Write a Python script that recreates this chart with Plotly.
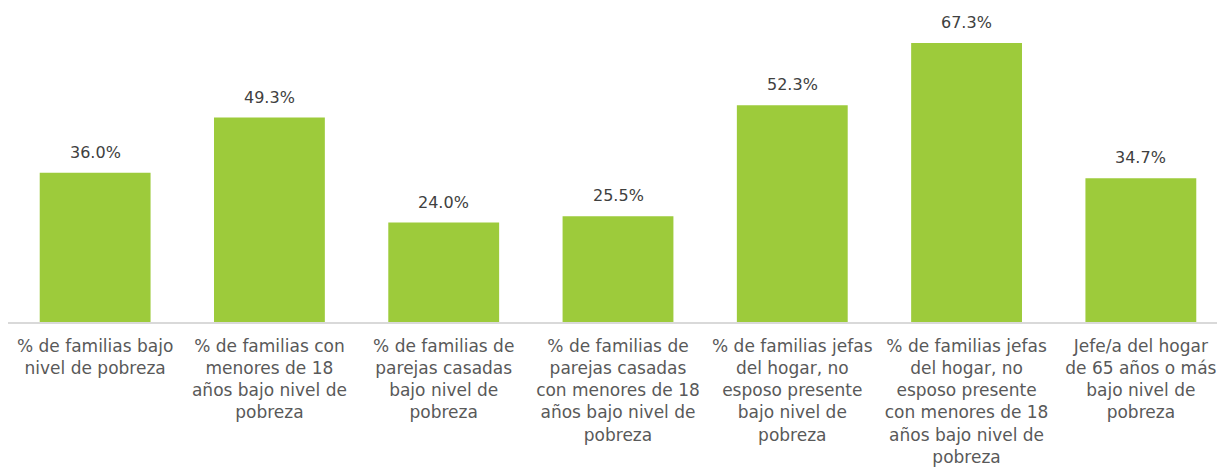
import plotly.graph_objects as go

categories = [
    "% de familias bajo<br>nivel de pobreza",
    "% de familias con<br>menores de 18<br>años bajo nivel de<br>pobreza",
    "% de familias de<br>parejas casadas<br>bajo nivel de<br>pobreza",
    "% de familias de<br>parejas casadas<br>con menores de 18<br>años bajo nivel de<br>pobreza",
    "% de familias jefas<br>del hogar, no<br>esposo presente<br>bajo nivel de<br>pobreza",
    "% de familias jefas<br>del hogar, no<br>esposo presente<br>con menores de 18<br>años bajo nivel de<br>pobreza",
    "Jefe/a del hogar<br>de 65 años o más<br>bajo nivel de<br>pobreza",
]
values = [36.0, 49.3, 24.0, 25.5, 52.3, 67.3, 34.7]
value_labels = [f"{v:.1f}%" for v in values]

FONT = "DejaVu Sans"

fig = go.Figure()
fig.add_trace(go.Bar(
    x=categories, y=values,
    marker=dict(color="#9DCB3B", line=dict(width=0)),
    hoverinfo="skip",
))

for c, v, t in zip(categories, values, value_labels):
    fig.add_annotation(
        x=c, y=v, text=t, showarrow=False,
        xanchor="center", yanchor="bottom", yshift=9,
        font=dict(family=FONT, size=16, color="#404040"),
    )

fig.update_layout(
    width=1225, height=469,
    margin=dict(l=0, r=5, t=0, b=155, autoexpand=False),
    paper_bgcolor="white", plot_bgcolor="white",
    bargap=0.364,
    showlegend=False,
    font=dict(family=FONT),
)
fig.update_xaxes(
    showline=True, linecolor="#D9D9D9", linewidth=1.5,
    ticks="", tickfont=dict(family=FONT, size=17, color="#595959"),
    ticklabelstandoff=8, showgrid=False, automargin=False,
)
fig.update_yaxes(
    range=[0, 75.74], visible=False, showgrid=False, zeroline=False,
    automargin=False,
)

fig.write_html("out.html")
